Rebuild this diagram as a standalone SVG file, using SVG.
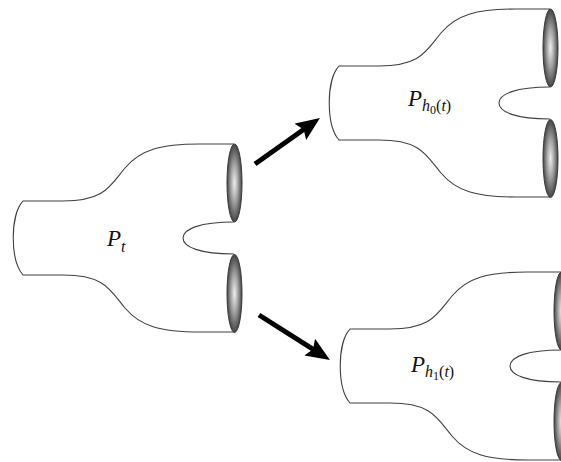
<svg xmlns="http://www.w3.org/2000/svg" xmlns:xlink="http://www.w3.org/1999/xlink" width="561" height="462" viewBox="0 0 561 462">
<style>
.outline{fill:none;stroke:#404040;stroke-width:1.1}
.cuff{fill:url(#cuffGrad);stroke:#3a3a3a;stroke-width:1}
.lbl{font-family:"Liberation Serif","DejaVu Serif",serif;fill:#111}
.it{font-style:italic}
.shaft{stroke:#000;stroke-width:5;fill:none}
</style>
<defs>
<radialGradient id="cuffGrad" cx="0.5" cy="0.5" r="0.5">
<stop offset="0" stop-color="#eeeeee"/>
<stop offset="0.5" stop-color="#a0a0a0"/>
<stop offset="1" stop-color="#444444"/>
</radialGradient>
<marker id="head" viewBox="0 0 24 20" refX="7" refY="10" markerWidth="24" markerHeight="20" markerUnits="userSpaceOnUse" orient="auto">
<path d="M0,0 L24,10 L0,20 L4,10 Z" fill="#000"/>
</marker>
<g id="pants">
<path class="outline" d="M234,144 L200,144 C160,144 140,150 125,168 C110,186 105,201 63,201 L23,201 C10,215 10,260 23,275 L63,275 C105,275 110,290 125,308 C140,326 160,332 200,332 L234,332"/>
<path class="outline" d="M234,222 C200,222 183,229 183,238 C183,247 200,254 234,254"/>
<ellipse class="cuff" cx="234.5" cy="183" rx="7.5" ry="39"/>
<ellipse class="cuff" cx="234.5" cy="293.5" rx="7.5" ry="39"/>
</g>
</defs>
<g id="node-pt">
<use xlink:href="#pants"/>
<text class="lbl" x="107" y="246"><tspan class="it" font-size="23">P</tspan><tspan class="it" font-size="16" dy="6">t</tspan></text>
</g>
<g id="node-ph0">
<use xlink:href="#pants" transform="translate(316,-135)"/>
<text class="lbl" x="408" y="106"><tspan class="it" font-size="23">P</tspan><tspan class="it" font-size="16" dy="5">h</tspan><tspan font-size="12" dy="3">0</tspan><tspan font-size="16" dy="-3">(</tspan><tspan class="it" font-size="16">t</tspan><tspan font-size="16">)</tspan></text>
</g>
<g id="node-ph1">
<use xlink:href="#pants" transform="translate(327,128)"/>
<text class="lbl" x="411" y="372"><tspan class="it" font-size="23">P</tspan><tspan class="it" font-size="16" dy="5">h</tspan><tspan font-size="12" dy="3">1</tspan><tspan font-size="16" dy="-3">(</tspan><tspan class="it" font-size="16">t</tspan><tspan font-size="16">)</tspan></text>
</g>
<g id="connectors">
<line class="shaft" x1="255" y1="164" x2="306.1" y2="127.8" marker-end="url(#head)"/>
<line class="shaft" x1="259" y1="315" x2="315.6" y2="350.9" marker-end="url(#head)"/>
</g>
</svg>
